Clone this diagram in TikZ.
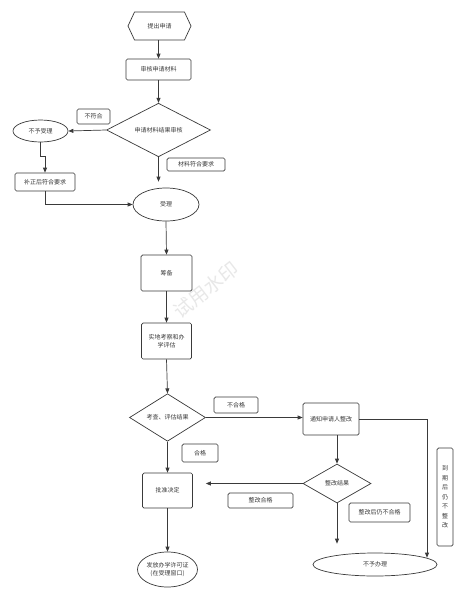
\documentclass[tikz,border=0pt]{standalone}
\usepackage{fontspec}
\newfontfamily\cjk{Noto Sans CJK SC}
\usetikzlibrary{shapes.geometric,shapes.symbols,calc,arrows.meta}
\definecolor{ln}{HTML}{3A3A3A}
\begin{document}
\begin{tikzpicture}[x=1pt,y=-1pt,
  every node/.style={font=\cjk\fontsize{6}{8}\selectfont, text=ln, inner sep=0pt},
  box/.style={draw=ln, line width=0.7pt, rounded corners=1.5pt, align=center},
  lbl/.style={draw=ln, line width=0.7pt, rounded corners=1.5pt, align=center},
  dia/.style={draw=ln, line width=0.7pt, diamond},
  ell/.style={draw=ln, line width=0.7pt, ellipse, align=center},
  arr/.style={draw=ln, line width=0.7pt, -{Triangle[length=5pt,width=4pt]}},
  ln/.style={draw=ln, line width=0.7pt}]
\useasboundingbox (0,0) rectangle (466,600);
\fill[white] (0,0) rectangle (466,600);
% watermark
\node[font=\cjk\fontsize{19}{20}\selectfont, text=black!9, rotate=38] (wm) at (206,290) {试用水印};
% nodes
\node[draw=ln, line width=0.7pt, signal, signal to=west and east, signal pointer angle=130, minimum width=63pt, minimum height=28pt] (start) at (159.5,26) {提出申请};
\node[box, minimum width=65pt, minimum height=21pt] (check) at (158.5,69.5) {审核申请材料};
\node[dia, minimum width=104pt, minimum height=40pt] (d1) at (158.5,130) {申请材料结果审核};
\node[ell, minimum width=55pt, minimum height=22pt] (rej1) at (40.5,131) {不予受理};
\node[lbl, minimum width=33pt, minimum height=15pt] (l1) at (93.5,116.5) {不符合};
\node[lbl, minimum width=58pt, minimum height=13pt] (l2) at (196,164.5) {材料符合要求};
\node[box, minimum width=60pt, minimum height=18pt] (fix) at (45,182) {补正后符合要求};
\node[ell, minimum width=66pt, minimum height=33pt] (acc) at (166,204.5) {受理};
\node[box, minimum width=51pt, minimum height=36pt] (prep) at (166.5,273) {筹备};
\node[box, minimum width=50pt, minimum height=36pt] (survey) at (166.5,341) {实地考察和办\\学评估};
\node[dia, minimum width=76pt, minimum height=43pt] (d2) at (167.5,417.5) {考查、评估结果};
\node[lbl, minimum width=44pt, minimum height=16pt] (l3) at (236,405) {不合格};
\node[lbl, minimum width=36pt, minimum height=18pt] (l4) at (200,453) {合格};
\node[box, minimum width=56pt, minimum height=32pt] (notify) at (331,419) {通知申请人整改};
\node[dia, minimum width=68pt, minimum height=39pt] (d3) at (337,483.5) {整改结果};
\node[lbl, minimum width=65pt, minimum height=15pt] (l5) at (260.5,500.5) {整改合格};
\node[box, minimum width=50pt, minimum height=35pt] (appr) at (167.5,490.5) {批准决定};
\node[ell, minimum width=60pt, minimum height=35pt] (issue) at (167.5,569.5) {发放办学许可证\\(在受理窗口)};
\node[lbl, minimum width=61pt, minimum height=19pt] (l6) at (379.5,512.5) {整改后仍不合格};
\node[lbl, minimum width=16pt, minimum height=98pt, font=\cjk\fontsize{6}{9.5}\selectfont] (l7) at (445,497) {到\\期\\后\\仍\\不\\整\\改};
\node[ell, minimum width=124pt, minimum height=23pt] (refuse) at (375,564.5) {不予办理};
\coordinate (c1) at (427,419);
% connectors
\draw[arr] (start.south -| check.north) -- (check.north);
\draw[arr] (check.south) -- (check.south |- d1.north);
\draw[arr, shorten >=6pt] (d1.south) -- (d1.south |- acc.north);
\draw[arr] (d1.west) -- (rej1.east);
\draw[arr] (rej1.south) -- ([yshift=16pt]rej1.south |- fix.north) -| (fix.north);
\draw[arr] (fix.south) |- (acc.west);
\draw[arr] (acc.south) -- (prep.north);
\draw[arr] (prep.south) -- (survey.north);
\draw[arr] (survey.south) -- (d2.north);
\draw[arr] (d2.east) -- (notify.west |- d2.east);
\draw[arr] (d2.south) -- (appr.north);
\draw[arr] (notify.south -| d3.north) -- (d3.north);
\draw[arr, shorten >=13pt] (d3.west) -- (d3.west -| appr.east);
\draw[arr] (appr.south) -- (issue.north);
\draw[arr, shorten >=9pt] (d3.south) -- (d3.south |- refuse.north);
\draw[arr] (notify.east) -- (c1) -- ($(c1 |- refuse.north)+(0,5)$);
\end{tikzpicture}
\end{document}
